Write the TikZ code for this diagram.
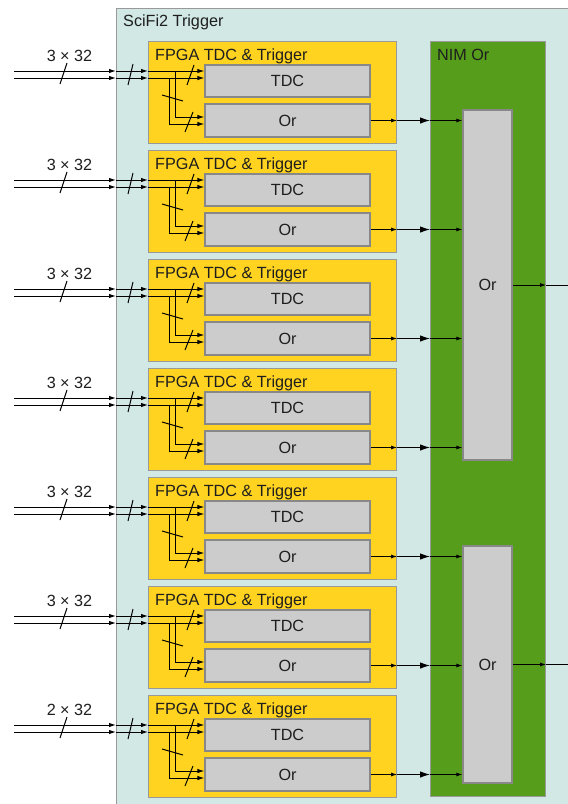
\documentclass[tikz,border=0pt]{standalone}
\usepackage{fontspec}
\setmainfont{Liberation Sans}
\usetikzlibrary{arrows.meta}
\definecolor{trigbg}{RGB}{209,232,229}
\definecolor{fpgayellow}{RGB}{255,211,32}
\definecolor{nimgreen}{RGB}{87,157,28}
\definecolor{cellgray}{RGB}{204,204,204}
\definecolor{celledge}{RGB}{136,136,136}
\definecolor{edgegray}{RGB}{153,153,153}
\definecolor{txt}{RGB}{30,30,30}

\begin{document}
\begin{tikzpicture}[x=1pt,y=-1pt,font=\fontsize{16.2}{19}\selectfont,
  >={Latex[length=7pt,width=4.5pt]},
  panel/.style={draw=edgegray,line width=1.2pt,inner sep=0pt,anchor=north west},
  fpgabox/.style={panel,fill=fpgayellow,minimum width=248pt,minimum height=102pt},
  cell/.style={draw=celledge,fill=cellgray,line width=1.2pt,inner sep=0pt,
               minimum width=165pt,text=txt},
  heading/.style={anchor=base west,inner sep=0pt,text=txt},
  sig/.style={->,line width=1pt},
  smallsig/.style={-{Latex[length=6pt,width=4pt]},line width=1pt},
  bigsig/.style={-{Latex[length=10pt,width=6.5pt]},line width=1pt},
  slash/.style={line width=1pt}]
\useasboundingbox (0,0) rectangle (568,804);
\clip (0,0) rectangle (568,804);

% crate and NIM module
\node[panel,fill=trigbg,minimum width=480pt,minimum height=830pt] (trig) at (116,8) {};
\node[heading] (trigtitle) at (123,26.5) {SciFi2 Trigger};
\node[panel,fill=nimgreen,minimum width=115pt,minimum height=755pt] (nim) at (430,41) {};
\node[heading] (nimtitle) at (437,60) {NIM Or};
\node[cell,minimum width=49pt,minimum height=350pt] (nimorA) at (487.5,285) {Or};
\node[cell,minimum width=49pt,minimum height=237pt] (nimorB) at (487.5,664.5) {Or};

% FPGA boards
\foreach \i/\n/\m in {1/3/A,2/3/A,3/3/A,4/3/A,5/3/B,6/3/B,7/2/B}{
  \pgfmathsetmacro{\t}{41+109*(\i-1)}
  \node[fpgabox] (fpga\i) at (148,\t) {};
  \node[heading] (fpgatitle\i) at (155,\t+19) {FPGA TDC \& Trigger};
  \node[cell,minimum height=32pt] (tdc\i) at (287.5,\t+40) {TDC};
  \node[cell,minimum height=33pt] (or\i) at (287.5,\t+79.5) {Or};
  \node[anchor=base,inner sep=0pt,text=txt] (width\i) at (69.5,\t+20) {\n{} × 32};
  % inputs
  \coordinate (ina\i) at (14,\t+30);
  \coordinate (inb\i) at (14,\t+37);
  \foreach \c in {ina\i,inb\i}{
    \draw[sig] (\c) -- (\c -| trig.west);
    \draw[sig] (\c -| trig.west) -- (\c -| fpga\i.west);
    \draw[sig] (\c -| fpga\i.west) -- (\c -| tdc\i.west);
  }
  \coordinate (bra\i) at (175,\t+30);
  \coordinate (brb\i) at (169,\t+37);
  \draw[sig] (bra\i) |- ([yshift=3.5pt]or\i.west);
  \draw[sig] (brb\i) |- ([yshift=-3.5pt]or\i.west);
  \draw[slash] (60,\t+43) -- (67,\t+22);
  \draw[slash] (128,\t+44) -- (133,\t+23);
  \draw[slash] (187,\t+44) -- (194,\t+24);
  \draw[slash] (185,\t+91) -- (193,\t+71);
  \draw[slash] (162,\t+54) -- (183,\t+60);
  % output to NIM
  \draw[smallsig] (or\i.east) -- (or\i.east -| fpga\i.east);
  \draw[bigsig] (or\i.east -| fpga\i.east) -- (or\i.east -| nim.west);
  \draw[smallsig] (or\i.east -| nim.west) -- (or\i.east -| nimor\m.west);
}

% NIM outputs
\foreach \m in {A,B}{
  \coordinate (out\m) at ([xshift=31pt]nimor\m.east -| nim.east);
  \draw[smallsig] (nimor\m.east) -- (nimor\m.east -| nim.east);
  \draw[smallsig] (nimor\m.east -| nim.east) -- (out\m);
}
\end{tikzpicture}
\end{document}
